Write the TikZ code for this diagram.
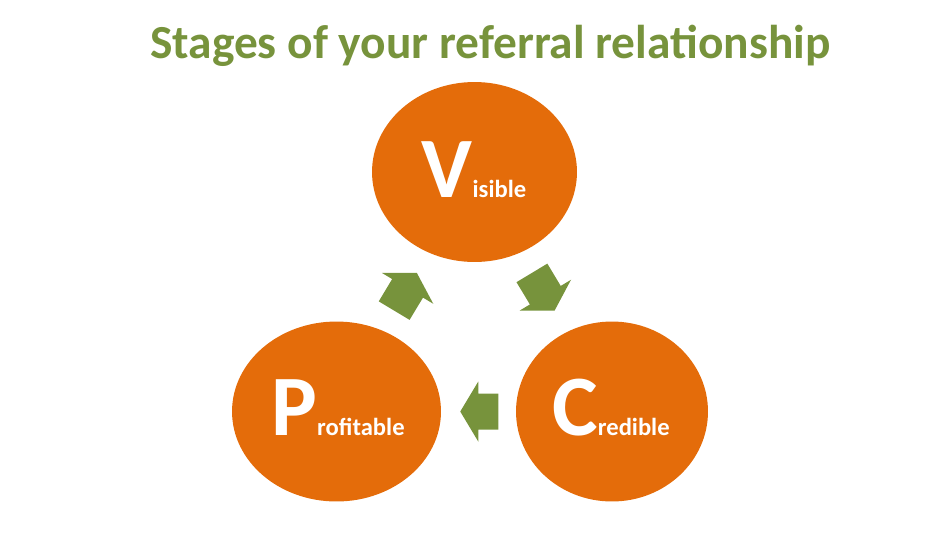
\documentclass[tikz,border=0pt]{standalone}
\usepackage{fontspec}
\setmainfont{Carlito}
\usetikzlibrary{shapes.geometric,calc}
\definecolor{stageorange}{HTML}{E46C0A}
\definecolor{stagegreen}{HTML}{77933C}
\newcommand{\bigfirst}{\fontsize{49}{49}\selectfont\bfseries}
\newcommand{\smallrest}{\fontsize{14}{14}\selectfont\bfseries}

\begin{document}
\begin{tikzpicture}[x=0.02cm, y=-0.02cm,
  stage/.style={ellipse, fill=stageorange, inner sep=0pt, minimum height=3.6cm},
  stagetext/.style={anchor=base, text=white, inner sep=0pt},
  fat/.style={fill=stagegreen}]
  \useasboundingbox (0,0) rectangle (950,535);
  % titel
  \node[anchor=base, text=stagegreen, font=\fontsize{27}{27}\selectfont\bfseries] (title) at (490.5,58) {Stages of your referral relationship};
  % drei stufen
  \node[stage, minimum width=4.1cm] (v) at (474.5,172) {};
  \node[stage, minimum width=4.18cm] (p) at (336.5,411.5) {};
  \node[stage, minimum width=3.84cm] (c) at (612,411.5) {};
  \node[stagetext] (vtext) at (474,197) {\bigfirst V\smallrest isible};
  \node[stagetext] (ptext) at (338,435) {\bigfirst P\smallrest rofitable};
  \node[stagetext] (ctext) at (611,435) {\bigfirst C\smallrest redible};
  % pfeile
  \coordinate (vc) at ($(v)!0.5!(c)$);
  \coordinate (cp) at ($(c)!0.5!(p)+(5,0)$);
  \coordinate (pv) at ($(p)!0.5!(v)$);
  \begin{scope}[shift={(vc)}, rotate=-59]
    \fill[fat] (-22,-18) -- (4,-18) -- (4,-30) -- (22,0) -- (4,30) -- (4,18) -- (-22,18) -- cycle;
  \end{scope}
  \begin{scope}[shift={(pv)}, rotate=59]
    \fill[fat] (-22,-18) -- (4,-18) -- (4,-30) -- (22,0) -- (4,30) -- (4,18) -- (-22,18) -- cycle;
  \end{scope}
  \begin{scope}[shift={(cp)}, rotate=180]
    \fill[fat] (-19,-18) -- (1,-18) -- (1,-30) -- (19,0) -- (1,30) -- (1,18) -- (-19,18) -- cycle;
  \end{scope}
\end{tikzpicture}
\end{document}
